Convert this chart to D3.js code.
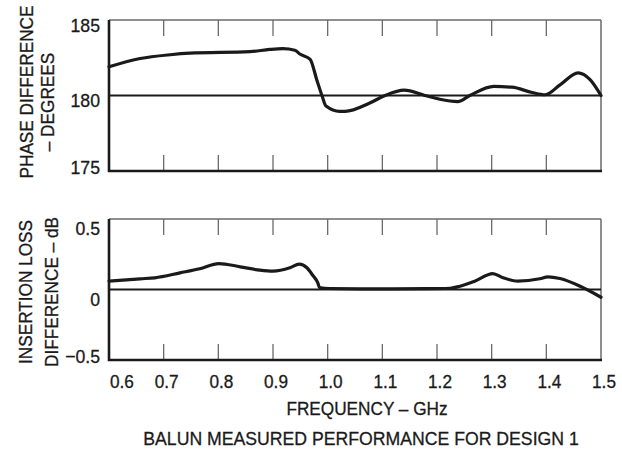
<!DOCTYPE html>
<html>
<head>
<meta charset="utf-8">
<script src="https://cdn.jsdelivr.net/npm/d3@7"></script>
<style>
  html, body { margin: 0; padding: 0; background: #fff; }
  svg { display: block; }
  text { font-family: "Liberation Sans", Arial, Helvetica, sans-serif; fill: #1a1a1a; stroke: #1a1a1a; stroke-width: 0.3px; }
</style>
</head>
<body>
<svg id="chart" width="622" height="450"></svg>
<script>
// ---------- data ----------
const freqTicks = [0.6, 0.7, 0.8, 0.9, 1.0, 1.1, 1.2, 1.3, 1.4, 1.5];
const freqTickLabels = ["0.6", "0.7", "0.8", "0.9", "1.0", "1.1", "1.2", "1.3", "1.4", "1.5"];

const phaseTicks = [175, 180, 185];
const phaseTickLabels = ["175", "180", "185"];
const phaseFreq = [0.600, 0.657, 0.712, 0.748, 0.858, 0.894, 0.918, 0.940, 0.949, 0.968, 0.980, 0.990, 0.997,
                   1.022, 1.032, 1.077, 1.105, 1.140, 1.178, 1.205, 1.238, 1.260, 1.304, 1.337, 1.374,
                   1.398, 1.425, 1.458, 1.480, 1.500];
const phaseDeg  = [181.9, 182.45, 182.7, 182.8, 182.9, 183.05, 183.1, 183.0, 182.75, 182.4, 181.05, 179.95, 179.3,
                   178.95, 178.95, 179.5, 180.0, 180.35, 180.0, 179.75, 179.6, 180.0, 180.6, 180.55, 180.2,
                   180.05, 180.7, 181.5, 181.05, 180.0];

const lossTicks = [-0.5, 0, 0.5];
const lossTickLabels = ["\u22120.5", "0", "0.5"];
const lossFreq = [0.600, 0.657, 0.684, 0.730, 0.766, 0.801, 0.840, 0.876, 0.900, 0.931, 0.948, 0.962, 0.973,
                  0.982, 0.985, 1.004, 1.059, 1.120, 1.180, 1.224, 1.242, 1.269, 1.302, 1.321, 1.348,
                  1.388, 1.403, 1.425, 1.462, 1.500];
const lossDb   = [0.060, 0.076, 0.083, 0.118, 0.147, 0.184, 0.161, 0.137, 0.130, 0.154, 0.180, 0.154, 0.099,
                  0.047, 0.014, 0.007, 0.005, 0.005, 0.006, 0.009, 0.023, 0.059, 0.113, 0.083, 0.059,
                  0.076, 0.090, 0.078, 0.023, -0.055];

const xTitle = "FREQUENCY \u2013 GHz";
const chartTitle = "BALUN MEASURED PERFORMANCE FOR DESIGN 1";
const phaseTitle = ["PHASE DIFFERENCE", "\u2013 DEGREES"];
const lossTitle = ["INSERTION LOSS", "DIFFERENCE \u2013 dB"];

// ---------- layout ----------
const svg = d3.select("#chart");
const X0 = 109, X1 = 601;
const SX = 0.93; // horizontal condensing of the type
const x = d3.scaleLinear().domain([0.6, 1.5]).range([X0, X1]);

const yPhase = d3.scaleLinear().domain([175, 185]).range([171, 20]);
const yLoss  = d3.scaleLinear().domain([-0.5, 0.5]).range([360, 219]);

function label(parent, px, py, str, size, anchor, rot) {
  return parent.append("text")
    .attr("transform", `translate(${px},${py})${rot ? " rotate(" + rot + ")" : ""} scale(${SX},1)`)
    .attr("text-anchor", anchor)
    .attr("font-size", size)
    .text(str);
}

function panel(y, ticks, labels, refValue, fData, vData, labelOffset, titleLines, titleCenter) {
  const g = svg.append("g");
  const [yb, yt] = y.range();

  g.append("line").attr("x1", X0).attr("x2", X1).attr("y1", yt).attr("y2", yt)
    .attr("stroke", "#6a6a6a").attr("stroke-width", 1.3);
  g.append("line").attr("x1", X1).attr("x2", X1).attr("y1", yt).attr("y2", yb)
    .attr("stroke", "#6a6a6a").attr("stroke-width", 1.5);

  const inner = freqTicks.slice(1, -1);
  g.selectAll(".tt").data(inner).join("line")
    .attr("x1", d => x(d)).attr("x2", d => x(d))
    .attr("y1", yt).attr("y2", yt + 16)
    .attr("stroke", "#6a6a6a").attr("stroke-width", 1.3);
  g.selectAll(".tb").data(inner).join("line")
    .attr("x1", d => x(d)).attr("x2", d => x(d))
    .attr("y1", yb).attr("y2", yb - 16)
    .attr("stroke", "#6a6a6a").attr("stroke-width", 1.3);

  g.append("line").attr("x1", X0).attr("x2", X1)
    .attr("y1", y(refValue)).attr("y2", y(refValue))
    .attr("stroke", "#1a1a1a").attr("stroke-width", 2.2);

  g.append("path")
    .attr("d", `M${X0},${yt}V${yb}H${X1 + 1}`)
    .attr("fill", "none").attr("stroke", "#1a1a1a").attr("stroke-width", 2.6);

  ticks.forEach((d, i) => {
    label(g, 100, y(d) + (i === 0 ? 3 : labelOffset), labels[i], 19, "end");
  });

  const pts = fData.map((f, i) => [f, vData[i]]);
  g.append("path").datum(pts)
    .attr("fill", "none").attr("stroke", "#1a1a1a").attr("stroke-width", 3.2)
    .attr("stroke-linejoin", "round").attr("stroke-linecap", "round")
    .attr("d", d3.line().x(d => x(d[0])).y(d => y(d[1])).curve(d3.curveMonotoneX));

  titleLines.forEach((t, i) => {
    label(g, titleCenter[i][0], titleCenter[i][1], t, 18.5, "middle", -90);
  });
}

panel(yPhase, phaseTicks, phaseTickLabels, 180, phaseFreq, phaseDeg, 11.5, phaseTitle, [[33, 92], [54, 102]]);
panel(yLoss, lossTicks, lossTickLabels, 0, lossFreq, lossDb, 16, lossTitle, [[32, 292], [58, 292]]);

freqTicks.forEach((d, i) => {
  label(svg, i === 0 ? x(d) + 1 : x(d) + 3, 388, freqTickLabels[i], 18.5, i === 0 ? "start" : "middle");
});

label(svg, 367, 415, xTitle, 18.5, "middle");
label(svg, 361, 445, chartTitle, 19, "middle");
</script>
</body>
</html>
